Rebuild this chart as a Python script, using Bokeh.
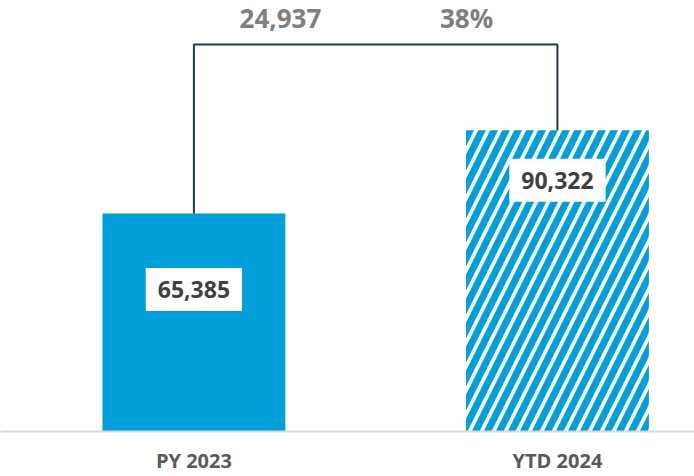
from bokeh.plotting import figure
from bokeh.models import Range1d, FixedTicker, ColumnDataSource
from bokeh.embed import file_html
from bokeh.resources import INLINE
from bokeh.core.properties import value

categories = ["PY 2023", "YTD 2024"]
values = [65385, 90322]
value_labels = ["65,385", "90,322"]
diff_label = "24,937"
pct_label = "38%"

BLUE = "#009FDA"
xs = list(range(len(categories)))

p = figure(width=694, height=476, output_backend="svg", toolbar_location=None,
           x_range=Range1d(-0.532, 1.377), y_range=Range1d(0, 129270),
           min_border_left=0, min_border_right=0, min_border_top=0, min_border_bottom=45)
p.outline_line_color = None
p.grid.visible = False
p.yaxis.visible = False
p.background_fill_color = "white"

src = ColumnDataSource(dict(x=xs, top=values, fill=[BLUE, "white"],
                            hatch=["blank", "/"], lbl=value_labels,
                            ly=[values[0] * 0.651, values[1] * 0.834]))
p.vbar(x="x", top="top", width=0.503, source=src, fill_color="fill",
       line_color=None, hatch_pattern="hatch", hatch_color=BLUE,
       hatch_scale=24, hatch_weight=7)

p.text(x="x", y="ly", text="lbl", source=src, text_align="center",
       text_baseline="middle", text_font=value("Open Sans"),
       text_font_style="bold", text_font_size="23px", text_color="#404040",
       background_fill_color="white", padding=(12, 13))

bracket_y = max(values) * 1.285
p.line(x=[xs[0], xs[0], xs[1], xs[1]], y=[values[0], bracket_y, bracket_y, values[1]],
       line_color="#1B3A57", line_width=2)

p.text(x=[0.238, 0.750], y=[max(values) * 1.372] * 2, text=[diff_label, pct_label],
       text_align="center", text_baseline="middle", text_font=value("Open Sans"),
       text_font_style="bold", text_font_size="26px", text_color="#7F7F7F")

ax = p.xaxis[0]
ax.ticker = FixedTicker(ticks=xs)
ax.major_label_overrides = {i: c for i, c in zip(xs, categories)}
ax.axis_line_color = "#D9D9D9"
ax.axis_line_width = 2
ax.major_tick_line_color = None
ax.minor_tick_line_color = None
ax.major_tick_out = 0
ax.major_tick_in = 0
ax.major_label_standoff = 15
ax.major_label_text_font = "Open Sans"
ax.major_label_text_font_style = "bold"
ax.major_label_text_font_size = "20px"
ax.major_label_text_color = "#595959"

open("out.html", "w").write(file_html(p, INLINE))
